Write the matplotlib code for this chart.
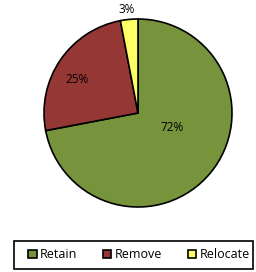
import matplotlib
matplotlib.use("Agg")
import matplotlib.pyplot as plt
from matplotlib.patches import Rectangle

labels = ["Retain", "Remove", "Relocate"]
values = [72, 25, 3]
colors = ["#77933C", "#953735", "#FFFF66"]

plt.rcParams['font.family'] = ['Open Sans', 'DejaVu Sans']

W, H = 256, 272
fig = plt.figure(figsize=(W / 100, H / 100), dpi=100)
ax = fig.add_axes([(138 - 94) / W, 1 - (113 + 94) / H, 188 / W, 188 / H])

wedges, texts = ax.pie(values, colors=colors, startangle=90, counterclock=False,
                       wedgeprops=dict(edgecolor="black", linewidth=1.2))
ax.set_aspect("equal")
ax.set_xlim(-1, 1)
ax.set_ylim(-1, 1)

# percentage labels
ax.text(0.36, -0.15, "72%", ha="center", va="center", fontsize=8.5)
ax.text(-0.65, 0.36, "25%", ha="center", va="center", fontsize=8.5)
ax.text(-0.12, 1.1, "3%", ha="center", va="center", fontsize=8.5)

# legend box drawn separately so it can be wider than the entries
fig.patches.append(Rectangle((14 / W, 1 - 269 / H), 239 / W, 28 / H,
                             transform=fig.transFigure, fill=False,
                             edgecolor="black", linewidth=1.2))
leg = fig.legend(wedges, labels, loc="center", bbox_to_anchor=(139 / W, 1 - 255 / H),
                 ncol=3, fontsize=9, frameon=False,
                 handlelength=0.65, handleheight=0.65, handletextpad=0.25,
                 columnspacing=2.1, borderaxespad=0)
for h in leg.legend_handles:
    h.set_linewidth(1.2)

fig.savefig("out.png", dpi=100)
